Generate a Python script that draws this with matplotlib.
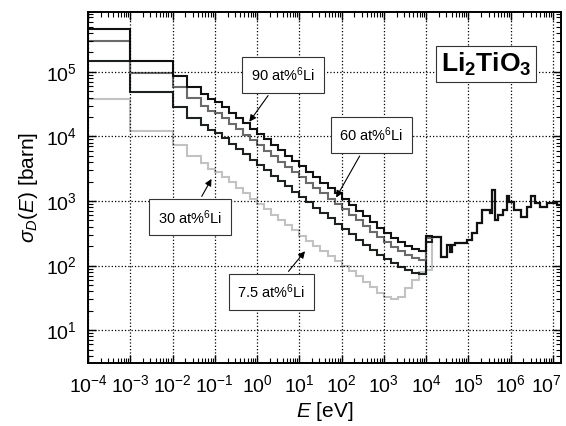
import matplotlib
matplotlib.use("Agg")
import matplotlib.pyplot as plt
import matplotlib.transforms as mtransforms
from matplotlib.ticker import LogLocator, NullFormatter

plt.rcParams['font.family'] = ['Liberation Sans', 'DejaVu Sans']
plt.rcParams['mathtext.fontset'] = 'custom'
plt.rcParams['mathtext.rm'] = 'Liberation Sans'
plt.rcParams['mathtext.it'] = 'Liberation Sans:italic'
plt.rcParams['mathtext.bf'] = 'Liberation Sans:bold'
plt.rcParams['axes.unicode_minus'] = False

# group boundaries [eV]
group_edges = [
    1e-4, 1e-3, 1e-2, 2.2e-2, 4.6e-2, 7e-2, 1e-1,
    1.47e-1, 2.15e-1, 3.16e-1, 4.64e-1, 6.81e-1, 1.0,
    1.47, 2.15, 3.16, 4.64, 6.81, 10.0,
    14.7, 21.5, 31.6, 46.4, 68.1, 100.0,
    147, 215, 316, 464, 681, 1000,
    1470, 2150, 3160, 4640, 6810, 1.0e4,
    1.35e4, 2.3e4, 3.1e4, 3.6e4, 4.1e4, 4.8e4, 9.2e4, 1.2e5, 1.58e5, 2.06e5,
    3.2e5, 3.7e5, 4.2e5, 4.9e5, 6.5e5, 8.1e5, 9.0e5, 1.23e6, 1.8e6, 2.4e6,
    3.1e6, 3.7e6, 4.9e6, 7.1e6, 1.23e7, 1.6e7,
]

# sigma_D below 10 keV for each enrichment [barn]
low_90 = [4.6e5, 1.48e5, 8.8e4, 5.9e4, 4.5e4, 3.8e4,
          34400, 28400, 23400, 19300, 16000, 13200,
          10900, 9000, 7400, 6100, 5050, 4170,
          3440, 2840, 2340, 1930, 1600, 1320,
          1090, 880, 710, 580, 470, 385,
          320, 270, 230, 200, 180, 170, 290]
low_60 = [3.0e5, 9.5e4, 5.8e4, 3.9e4, 2.95e4, 2.5e4,
          23000, 19000, 15700, 12900, 10700, 8850,
          7300, 6030, 4960, 4090, 3400, 2800,
          2320, 1920, 1590, 1310, 1090, 900,
          750, 610, 500, 410, 335, 278,
          232, 196, 166, 145, 130, 124, 270]
low_30 = [1.5e5, 4.8e4, 2.9e4, 1.95e4, 1.5e4, 1.27e4,
          11400, 9400, 7750, 6400, 5300, 4380,
          3620, 2990, 2460, 2030, 1680, 1390,
          1150, 950, 785, 650, 540, 447,
          372, 305, 252, 210, 175, 148,
          126, 108, 95, 85, 78, 74, 230]
low_7 = [3.8e4, 1.2e4, 7.4e3, 4.9e3, 3.9e3, 3.1e3,
         2850, 2350, 1940, 1600, 1320, 1090,
         900, 745, 615, 510, 420, 350,
         290, 240, 200, 168, 140, 118,
         98, 82, 68, 56, 46, 38,
         33, 30, 33, 45, 60, 80, 85]

# common part above ~13 keV
high_common = [280, 135, 210, 160, 205, 225, 250, 320, 460, 730,
               650, 1480, 500, 600, 720, 1200, 950, 730, 570, 810,
               1200, 930, 810, 930, 880]

series = [
    ("7.5", low_7 + high_common, "#c2c2c2"),
    ("30", low_30 + high_common, "#1c231f"),
    ("60", low_60 + high_common, "#6b6b6b"),
    ("90", low_90 + high_common, "#111111"),
]

fig = plt.figure(figsize=(5.66, 4.26), dpi=100)
ax = fig.add_axes([0.1555, 0.148, 0.8356, 0.824])

for name, vals, col in series:
    ax.stairs(vals, group_edges, baseline=None, color=col, lw=1.5)

ax.set_xscale('log')
ax.set_yscale('log')
ax.set_xlim(1e-4, 1.55e7)
ax.set_ylim(3.1, 8.5e5)

ax.xaxis.set_major_locator(LogLocator(base=10, numticks=30))
ax.xaxis.set_minor_locator(LogLocator(base=10, subs=range(2, 10), numticks=300))
ax.xaxis.set_minor_formatter(NullFormatter())
ax.yaxis.set_major_locator(LogLocator(base=10, numticks=30))
ax.yaxis.set_minor_locator(LogLocator(base=10, subs=range(2, 10), numticks=300))
ax.yaxis.set_minor_formatter(NullFormatter())

ax.tick_params(which='both', direction='in', top=True, right=True, labelsize=14)
ax.tick_params(which='major', length=6, width=1.0)
ax.tick_params(which='minor', length=3.5, width=0.8)
ax.tick_params(axis='x', which='major', pad=8)
ax.tick_params(axis='y', which='major', pad=8)
for s in ax.spines.values():
    s.set_linewidth(1.4)

ax.grid(True, which='major', ls=':', color='black', lw=0.9)

ax.set_xlabel(r'$E$ [eV]', fontsize=15, labelpad=3)
ax.set_ylabel(r'$\sigma_D(E)$ [barn]', fontsize=15, labelpad=4)

box = dict(boxstyle='square,pad=0.6', fc='white', ec='#333333', lw=0.8)
arrow = dict(arrowstyle='-|>', color='black', lw=0.8, mutation_scale=10)

ax.annotate(r'90 at%$^6$Li', xy=(0.6, 1.56e4), xytext=(4.1, 9.0e4),
            ha='center', va='center', fontsize=10.5, bbox=box, arrowprops=arrow)
ax.annotate(r'60 at%$^6$Li', xy=(69, 1.04e3), xytext=(510, 1.05e4),
            ha='center', va='center', fontsize=10.5, bbox=box, arrowprops=arrow)
ax.annotate(r'30 at%$^6$Li', xy=(0.09, 2.4e3), xytext=(0.026, 560),
            ha='center', va='center', fontsize=10.5, bbox=box, arrowprops=arrow)
ax.annotate(r'7.5 at%$^6$Li', xy=(15, 180), xytext=(2.2, 39),
            ha='center', va='center', fontsize=10.5, bbox=box, arrowprops=arrow)

ax.text(2.6e5, 1.33e5, r'$\mathbf{Li_2TiO_3}$', ha='center', va='center',
        fontsize=19, bbox=dict(boxstyle='square,pad=0.18', fc='white', ec='#333333', lw=0.8))

# nudge the last x tick label so it stays inside the figure
fig.canvas.draw()
shift = mtransforms.ScaledTranslation(-5 / 72, 0, fig.dpi_scale_trans)
for tick, lab in zip(ax.xaxis.get_major_ticks(), ax.get_xticklabels()):
    if '{7}' in lab.get_text():
        tick.label1.set_transform(tick.label1.get_transform() + shift)

fig.savefig('out.png', dpi=100)
